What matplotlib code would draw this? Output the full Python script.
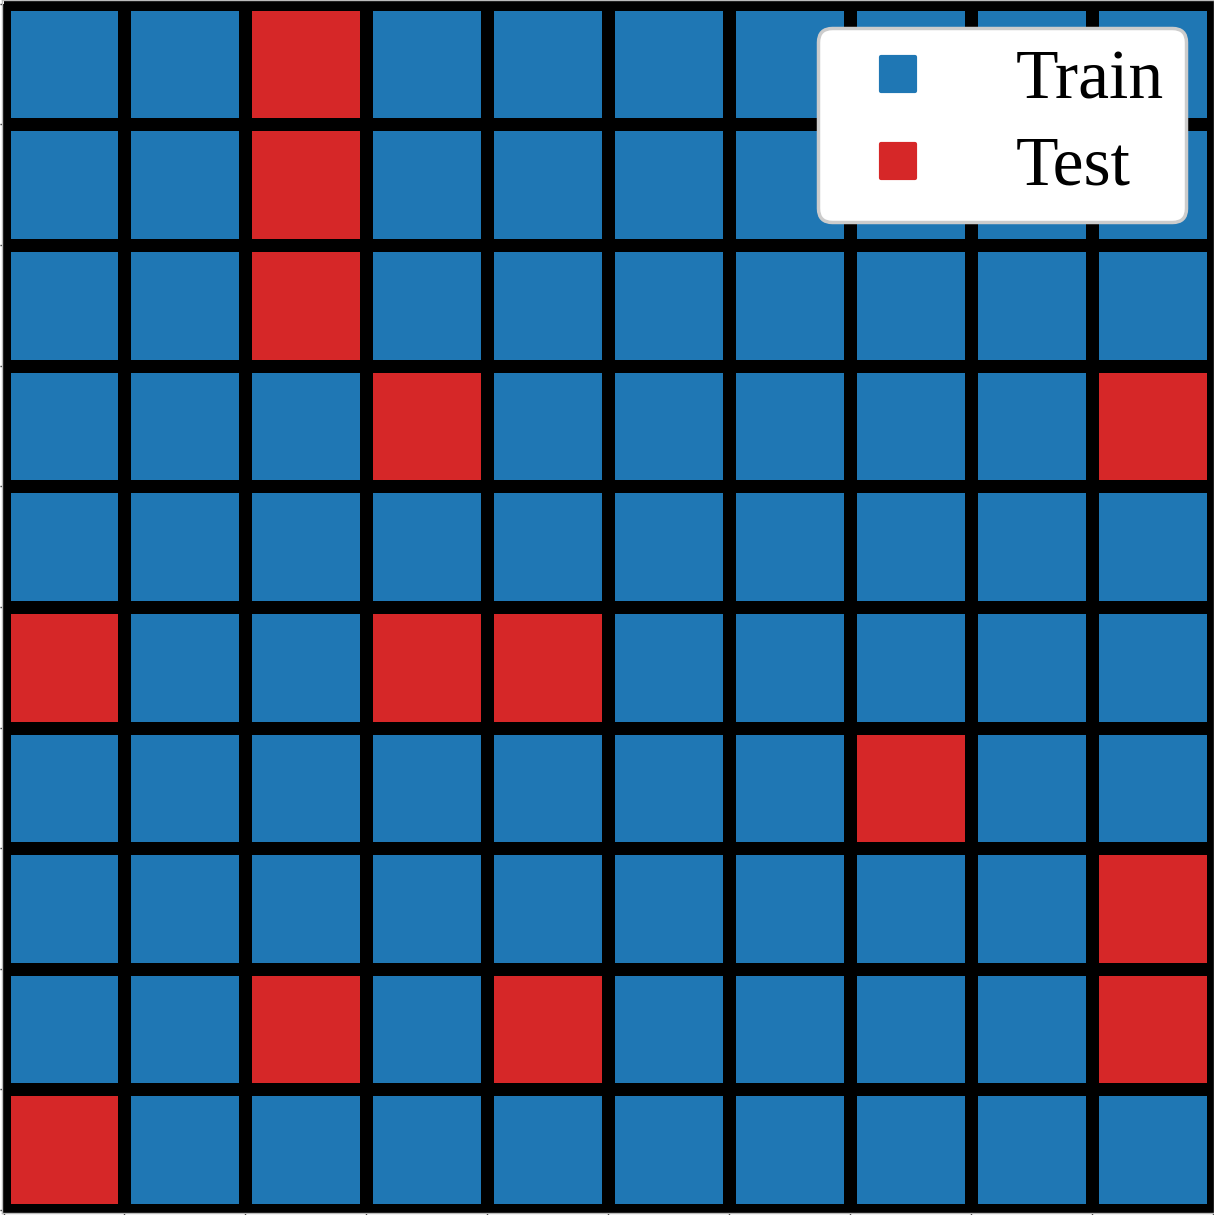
import numpy as np
import matplotlib
matplotlib.use("Agg")
import matplotlib.pyplot as plt
from matplotlib.colors import ListedColormap
from matplotlib.lines import Line2D
from matplotlib.markers import MarkerStyle

# 0 = Train, 1 = Test ; rows listed top to bottom
split_grid = [
    [0, 0, 1, 0, 0, 0, 0, 0, 0, 0],
    [0, 0, 1, 0, 0, 0, 0, 0, 0, 0],
    [0, 0, 1, 0, 0, 0, 0, 0, 0, 0],
    [0, 0, 0, 1, 0, 0, 0, 0, 0, 1],
    [0, 0, 0, 0, 0, 0, 0, 0, 0, 0],
    [1, 0, 0, 1, 1, 0, 0, 0, 0, 0],
    [0, 0, 0, 0, 0, 0, 0, 1, 0, 0],
    [0, 0, 0, 0, 0, 0, 0, 0, 0, 1],
    [0, 0, 1, 0, 1, 0, 0, 0, 0, 1],
    [1, 0, 0, 0, 0, 0, 0, 0, 0, 0],
]
labels = ["Train", "Test"]
colors = ["#1f77b4", "#d62728"]

W, H = 1214, 1215
fig = plt.figure(figsize=(W / 100, H / 100), dpi=100)
ax = fig.add_axes([2 / W, 2 / H, 1 - 2 / W, 1 - 2 / H])

data = np.array(split_grid)
ax.pcolormesh(np.arange(11), np.arange(11), data, cmap=ListedColormap(colors),
              vmin=0, vmax=1, edgecolors="black", linewidth=8)
ax.set_xlim(-0.0132, 10.0116)
ax.set_ylim(10.025, -0.032)

ax.set_xticks(np.arange(11))
ax.set_yticks(np.arange(11))
ax.set_xticklabels([])
ax.set_yticklabels([])
ax.tick_params(length=1.8, width=1, color="#333333", direction="out")
for s in ax.spines.values():
    s.set_color("#bbbbbb")
    s.set_linewidth(1)

handles = [Line2D([], [], linestyle="", marker=MarkerStyle("s", joinstyle="round"),
                  markersize=25, markerfacecolor=c, markeredgecolor=c,
                  markeredgewidth=3) for c in colors]
leg = ax.legend(handles, labels, loc="upper right",
                prop={"family": "Liberation Serif", "size": 50},
                borderaxespad=0.40, handlelength=1.67, handletextpad=0.865,
                labelspacing=0.33, borderpad=0.317, framealpha=1, fancybox=True)
leg.get_frame().set_edgecolor("#cccccc")
leg.get_frame().set_linewidth(2.5)

fig.savefig("out.png", dpi=100)
